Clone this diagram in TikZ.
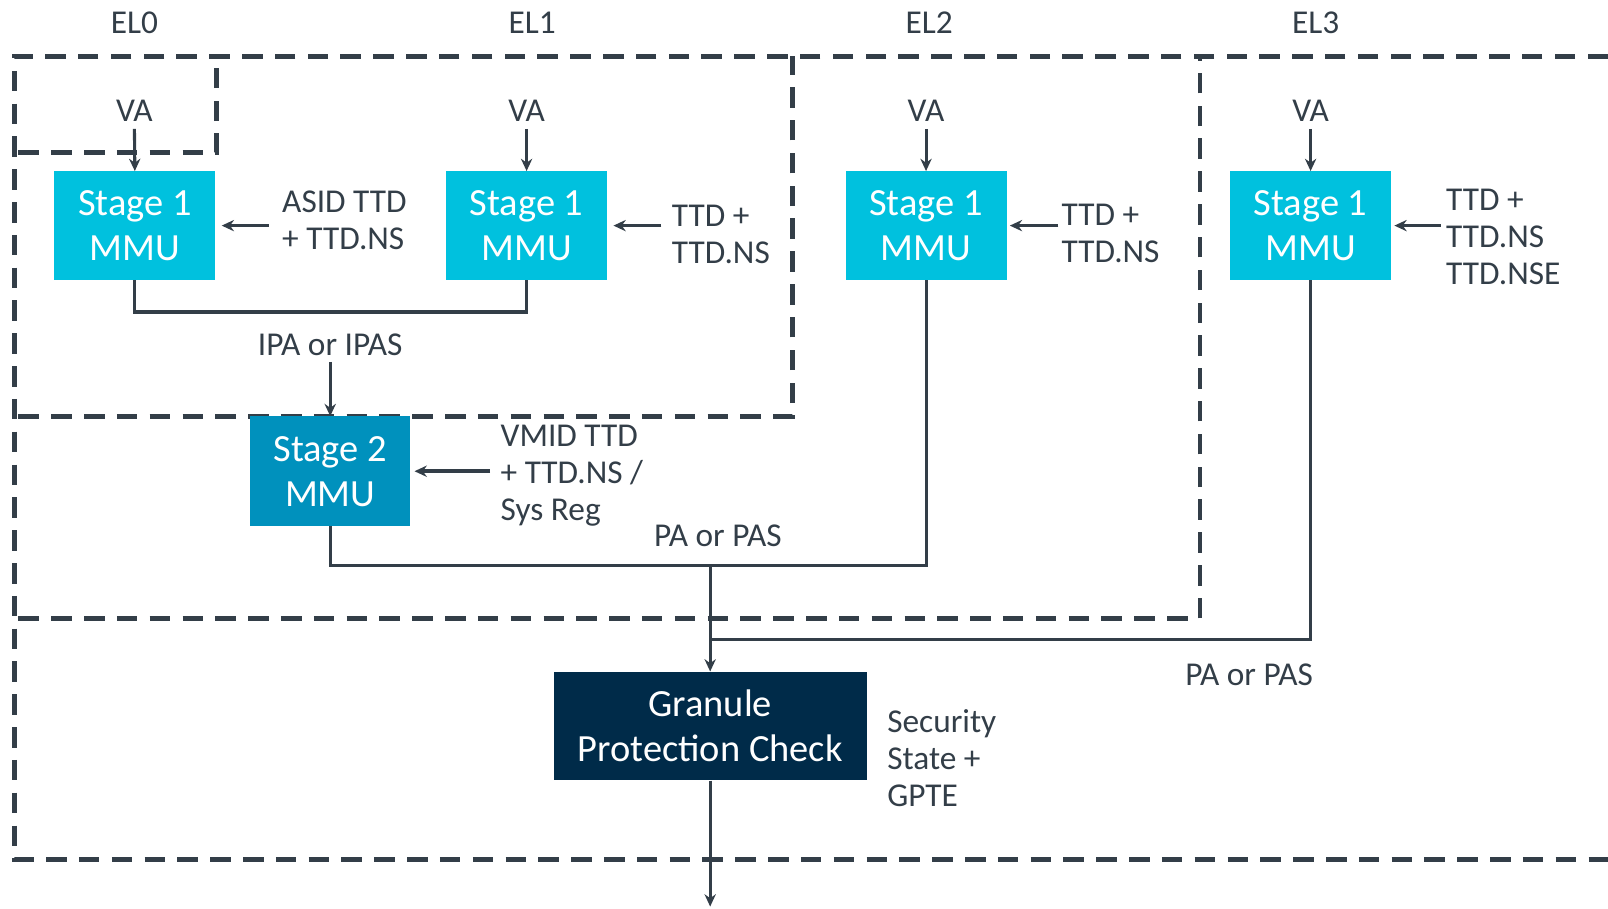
\documentclass[tikz,border=0pt]{standalone}
\usepackage{fontspec}
\setmainfont{Carlito}
\usetikzlibrary{arrows.meta}
\definecolor{ink}{HTML}{333E48}
\definecolor{cyanbox}{HTML}{00C1DE}
\definecolor{bluebox}{HTML}{0091BD}
\definecolor{navybox}{HTML}{002B49}
\begin{document}
\begin{tikzpicture}[x=1pt,y=1pt,
 lbl/.style={text=ink, font=\fontsize{32.5}{36}\selectfont, inner sep=0pt, align=left},
 mmu/.style={fill=cyanbox, text=white, minimum width=157pt, minimum height=106pt, font=\fontsize{37.5}{44}\selectfont, align=center, inner sep=0pt},
 conn/.style={draw=ink, line width=3pt},
 arr/.style={conn, -{Stealth[length=12pt,width=11pt]}},
 sidearr/.style={arr, line width=3.6pt},
 zone/.style={draw=ink, line width=4.5pt, dash pattern=on 20pt off 12pt}
]
\useasboundingbox (0,0) rectangle (1568,-886);

% zones
\draw[zone] (1568,-55) -- (14,-55) -- (14,-838) -- (1568,-838);
\draw[zone] (18,-149) -- (211,-149) -- (211,-55);
\draw[zone] (18,-406) -- (773,-406) -- (773,-55);
\draw[zone] (18,-603) -- (1170,-603) -- (1170,-55);

% EL labels
\node[lbl] (el0) at (131,-22) {EL0};
\node[lbl] (el1) at (519,-22) {EL1};
\node[lbl] (el2) at (906,-22) {EL2};
\node[lbl] (el3) at (1283,-22) {EL3};

% MMU boxes
\node[mmu] (m0) at (131.5,-220) {Stage 1\\MMU};
\node[mmu] (m1) at (513.5,-220) {Stage 1\\MMU};
\node[mmu] (m2) at (903,-220) {Stage 1\\MMU};
\node[mmu] (m3) at (1278,-220) {Stage 1\\MMU};
\node[mmu, fill=bluebox, minimum width=156pt, minimum height=107pt] (s2) at (322,-459.5) {Stage 2\\MMU};
\node[mmu, fill=navybox, minimum width=305pt, minimum height=106pt] (gpc) at (692.5,-708) {Granule\\Protection Check};

% VA labels
\node[lbl] (va0) at (131,-108) {VA};
\node[lbl] (va1) at (513.5,-108) {VA};
\node[lbl] (va2) at (903,-108) {VA};
\node[lbl] (va3) at (1278,-108) {VA};
\foreach \i in {0,1,2,3} \draw[arr, shorten <=7pt] (va\i.south) -- (m\i.north);

% side labels
\node[lbl, anchor=west] (t0) at (275,-214.5) {ASID TTD\\+ TTD.NS};
\node[lbl, anchor=west] (t1) at (655,-228.5) {TTD +\\TTD.NS};
\node[lbl, anchor=west] (t2) at (1035,-227.5) {TTD +\\TTD.NS};
\node[lbl, anchor=west] (t3) at (1410,-231) {TTD +\\TTD.NS\\TTD.NSE};
\node[lbl, anchor=west] (t4) at (488,-464) {VMID TTD\\+ TTD.NS /\\Sys Reg};
\node[lbl, anchor=west] (t5) at (865,-739) {Security\\State +\\GPTE};

\draw[sidearr, shorten <=13pt, shorten >=6pt] (t0.west |- m0.east) -- (m0.east);
\draw[sidearr, shorten <=10pt, shorten >=6pt] (t1.west |- m1.east) -- (m1.east);
\draw[sidearr, shorten <=3pt, shorten >=3pt] (t2.west |- m2.east) -- (m2.east);
\draw[sidearr, shorten <=5pt, shorten >=3pt] (t3.west |- m3.east) -- (m3.east);
\draw[sidearr, shorten <=10pt, shorten >=4pt] (t4.west |- s2.east) -- (s2.east);

% stage 1 EL0/EL1 join and IPA
\draw[conn] (m0.south) -- ++(0,-31) -| (m1.south);
\node[lbl] (ipa) at (322,-336) {IPA or IPAS};
\draw[arr, shorten <=6pt] (ipa.south) -- (s2.north);

% PA paths
\coordinate (j1) at (692.5,-551);
\coordinate (j2) at (692.5,-624);
\coordinate (out) at (692.5,-884);
\node[lbl] (pa1) at (700,-522) {PA or PAS};
\node[lbl] (pa2) at (1218,-658) {PA or PAS};
\draw[conn] (s2.south) |- (j1) -| (m2.south);
\draw[conn] (m3.south) |- (j2);
\draw[arr] (j1) -- (gpc.north);
\draw[arr] (gpc.south) -- (out);
\end{tikzpicture}
\end{document}
